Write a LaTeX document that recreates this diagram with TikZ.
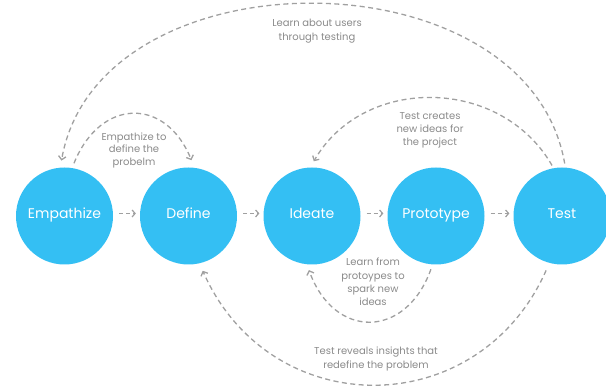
\documentclass[tikz,border=0pt]{standalone}
\usepackage{fontspec}
\setmainfont{Poppins}
\newfontfamily\labfont{Poppins}
\usetikzlibrary{arrows.meta}
\definecolor{bub}{RGB}{52,191,243}
\definecolor{dashc}{RGB}{160,160,160}
\definecolor{txtc}{RGB}{138,138,138}
\begin{document}
\begin{tikzpicture}[x=1pt,y=-1pt,
  stage/.style={circle,fill=bub,minimum size=97pt,inner sep=0pt,text=white,
    text height=8pt,text depth=3pt,font=\labfont\fontsize{14}{16}\selectfont},
  note/.style={text=txtc,align=center,font=\fontsize{10}{13}\selectfont},
  loopline/.style={draw=dashc,line width=1.3pt,dash pattern=on 5pt off 3.5pt,
    -{Straight Barb[length=3.5pt,width=7.5pt]}},
  fwd/.style={draw=dashc,line width=1.2pt,dash pattern=on 4pt off 3pt,
    -{Straight Barb[length=3pt,width=7pt]},shorten <=6pt,shorten >=4pt}]
\useasboundingbox (0,0) rectangle (606,387);

\node[stage] (emp) at (64.5,216) {Empathize};
\node[stage] (def) at (188.5,216) {Define};
\node[stage] (ide) at (312,216) {Ideate};
\node[stage] (pro) at (436,216) {Prototype};
\node[stage] (tst) at (562,216) {Test};

\draw[fwd] (emp.3) -- (def.177);
\draw[fwd] (def.3) -- (ide.177);
\draw[fwd] (ide.3) -- (pro.177);
\draw[fwd] (pro.3) -- (tst.177);

% Learn about users through testing
\draw[loopline,shorten <=4pt,shorten >=7pt]
  (tst.86.5) .. controls +(-38,-217) and +(38,-217) .. (emp.95);
% Empathize to define the problem
\draw[loopline,shorten <=5pt,shorten >=8pt]
  (emp.81) .. controls +(28.5,-70.5) and +(-28.5,-70.5) .. (def.83.5);
% Test creates new ideas
\draw[loopline,shorten <=3pt,shorten >=7pt]
  (tst.100.7) .. controls +(-53,-92) and +(53,-92) .. (ide.92);
% Learn from prototypes
\draw[loopline,shorten <=5pt,shorten >=6pt]
  (pro.266.5) .. controls +(-27,75) and +(27,75) .. (ide.264);
% Test reveals insights
\draw[loopline,shorten <=8pt,shorten >=8pt]
  (tst.255.7) .. controls +(-71,160) and +(71,160) .. (def.283.7);

\node[note,font=\fontsize{10}{14}\selectfont] (n1) at (317,31) {Learn about users\\through testing};
\node[note,font=\fontsize{10}{12.5}\selectfont] (n2) at (134,150) {Empathize to\\define the\\probelm};
\node[note] (n3) at (430,130) {Test creates\\new ideas for\\the project};
\node[note,font=\fontsize{10}{13.3}\selectfont] (n4) at (373,282) {Learn from\\protoypes to\\spark new\\ideas};
\node[note,font=\fontsize{10}{14}\selectfont] (n5) at (376,359) {Test reveals insights that\\redefine the problem};
\end{tikzpicture}
\end{document}
